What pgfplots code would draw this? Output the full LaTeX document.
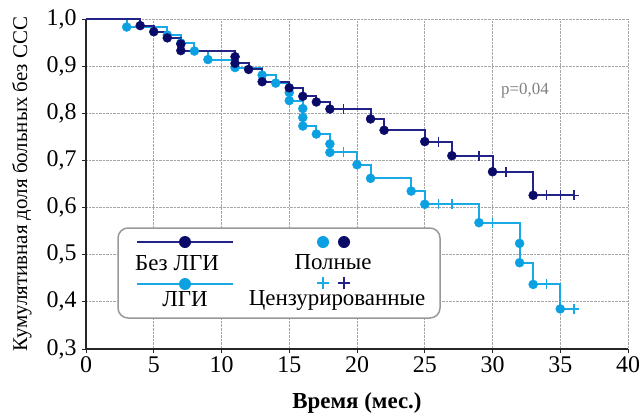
\documentclass[border=0pt]{standalone}
\usepackage{fontspec}
\setmainfont{Liberation Serif}
\usepackage{pgfplots}
\pgfplotsset{compat=1.18}

\definecolor{darkline}{RGB}{35,35,135}
\definecolor{darkdot}{RGB}{10,10,105}
\definecolor{lightline}{RGB}{25,170,230}
\definecolor{lightdot}{RGB}{10,160,225}

\begin{document}
\begin{tikzpicture}[x=1bp,y=1bp]
    \begin{axis}[
        scale only axis, width=542bp, height=330bp,
        xmin=0, xmax=40, ymin=0.3, ymax=1.0,
        xtick={0,5,...,40},
        ytick={0.3,0.4,0.5,0.6,0.7,0.8,0.9,1.0},
        axis x line*=bottom, axis y line*=left,
        axis line style={-, line width=1.3bp, black!85},
        tick align=outside, major tick length=4bp,
        tick style={black!85, line width=0.8bp},
        xmajorgrids, ymajorgrids,
        grid style={densely dotted, gray!70, line width=0.8bp},
        ticklabel style={font=\fontsize{24}{26}\selectfont},
        xticklabel style={yshift=0bp},
        yticklabel style={xshift=-2bp, /pgf/number format/.cd, use comma, fixed, fixed zerofill, precision=1},
        /pgf/number format/assume math mode=true,
        xlabel={Время (мес.)},
        xlabel style={font=\fontsize{23}{26}\selectfont\bfseries, yshift=-13bp},
        ylabel={Кумулятивная доля больных без ССС},
        ylabel style={font=\fontsize{21}{23}\selectfont, yshift=8bp},
        clip=false
    ]

    % ЛГИ
    \addplot[const plot, lightline, line width=2bp] coordinates {
        (0,1.0) (3,0.983) (6,0.966) (7,0.949) (8,0.932) (9,0.914) (11,0.897) (13,0.881) (14,0.864) (15,0.844) (15,0.827) (16,0.810) (16,0.791) (16,0.773) (17,0.756) (18,0.735) (18,0.717) (20,0.691) (21,0.662) (24,0.635) (25,0.607) (29,0.568) (32,0.524) (32,0.483) (33,0.437) (35,0.385) (36,0.385)
    };
    \addplot[only marks, mark=*, mark size=4.5bp, lightdot] coordinates {
        (3,0.983) (6,0.966) (7,0.949) (8,0.932) (9,0.914) (11,0.897) (13,0.881) (14,0.864) (15,0.844) (15,0.827) (16,0.810) (16,0.791) (16,0.773) (17,0.756) (18,0.735) (18,0.717) (20,0.691) (21,0.662) (24,0.635) (25,0.607) (29,0.568) (32,0.524) (32,0.483) (33,0.437) (35,0.385)
    };
    \addplot[only marks, mark=+, mark size=5bp, lightline, line width=1.5bp] coordinates {
        (19,0.717) (26,0.607) (27,0.607) (30,0.568) (34,0.437) (36,0.385)
    };

    % Без ЛГИ
    \addplot[const plot, darkline, line width=2bp] coordinates {
        (0,1.0) (4,0.986) (5,0.973) (6,0.960) (7,0.947) (7,0.933) (11,0.920) (11,0.906) (12,0.893) (13,0.867) (15,0.854) (16,0.836) (17,0.824) (18,0.809) (21,0.788) (22,0.764) (25,0.740) (27,0.710) (30,0.676) (33,0.626) (36,0.626)
    };
    \addplot[only marks, mark=*, mark size=4.5bp, darkdot] coordinates {
        (4,0.986) (5,0.973) (6,0.960) (7,0.947) (7,0.933) (11,0.920) (11,0.906) (12,0.893) (13,0.867) (15,0.854) (16,0.836) (17,0.824) (18,0.809) (21,0.788) (22,0.764) (25,0.740) (27,0.710) (30,0.676) (33,0.626)
    };
    \addplot[only marks, mark=+, mark size=5bp, darkline, line width=1.5bp] coordinates {
        (19,0.809) (26,0.740) (29,0.710) (31,0.676) (34,0.626) (35,0.626) (36,0.626)
    };

    \node[text=gray, font=\fontsize{17}{19}\selectfont] at (axis cs:32.4,0.849) {p=0,04};
    \end{axis}

    % legend, in picture pixels: x = X-86, y = 349-Y
    \begin{scope}[font=\fontsize{23}{26}\selectfont]
        \draw[gray!80, line width=1.5bp, fill=white, rounded corners=10bp] (32,31) rectangle (354,121);
        \draw[darkline, line width=2bp] (51,107) -- (147,107);
        \fill[darkdot] (99,107) circle (6bp);
        \node at (91,86) {Без ЛГИ};
        \draw[lightline, line width=2bp] (51,65) -- (147,65);
        \fill[lightdot] (99,65) circle (6bp);
        \node at (99,50) {ЛГИ};
        \fill[lightdot] (237,107) circle (6bp);
        \fill[darkdot] (258,107) circle (6bp);
        \node at (247,87) {Полные};
        \draw[lightline, line width=2bp] (231,66) -- (243,66) (237,60) -- (237,72);
        \draw[darkline, line width=2bp] (252,66) -- (264,66) (258,60) -- (258,72);
        \node at (251,49) {Цензурированные};
    \end{scope}

    \pgfresetboundingbox
    \path[use as bounding box] (-86,-63) rectangle (555,349);
\end{tikzpicture}
\end{document}
